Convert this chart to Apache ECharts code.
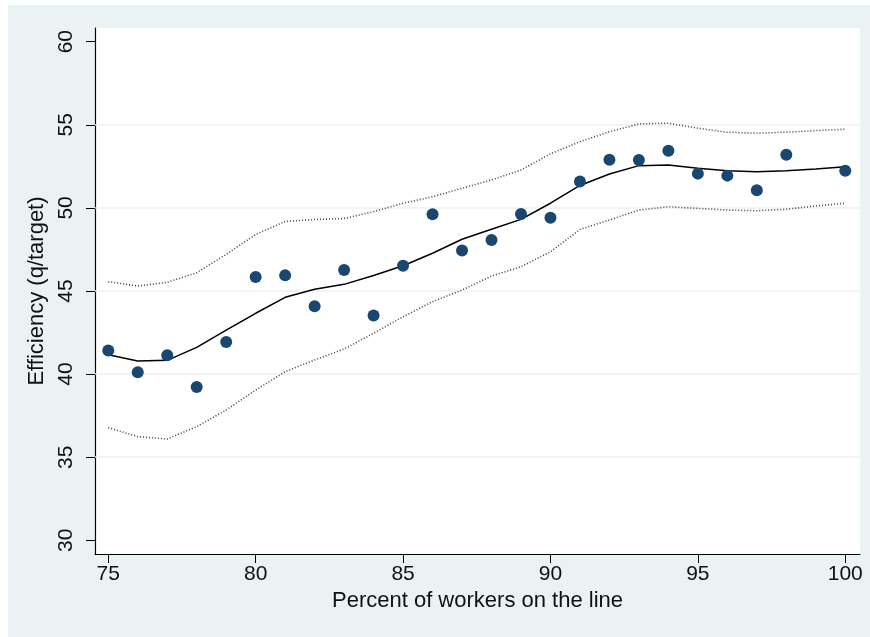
<!DOCTYPE html>
<html>
<head>
<meta charset="utf-8">
<script src="https://cdn.jsdelivr.net/npm/echarts@6/dist/echarts.min.js"></script>
<style>
  html, body { margin: 0; padding: 0; background: #fff; }
  #main { width: 870px; height: 637px; }
</style>
</head>
<body>
<div id="main"></div>
<script>
// percent of workers on the line, for the fitted curve and bands
var pctFit = [75, 76, 77, 78, 79, 80, 81, 82, 83, 84, 85, 86, 87, 88, 89, 90, 91, 92, 93, 94, 95, 96, 97, 98, 99, 100];
var fit = [41.17, 40.79, 40.83, 41.61, 42.65, 43.66, 44.62, 45.1, 45.4, 45.93, 46.52, 47.27, 48.11, 48.71, 49.31, 50.28, 51.35, 52.04, 52.54, 52.58, 52.38, 52.24, 52.18, 52.24, 52.34, 52.48];
var upper = [45.56, 45.3, 45.52, 46.1, 47.2, 48.4, 49.18, 49.3, 49.36, 49.77, 50.28, 50.67, 51.18, 51.68, 52.28, 53.25, 53.98, 54.58, 55.05, 55.09, 54.79, 54.55, 54.49, 54.55, 54.65, 54.73];
var lower = [36.78, 36.24, 36.1, 36.84, 37.84, 39.04, 40.15, 40.85, 41.51, 42.46, 43.45, 44.36, 45.06, 45.9, 46.46, 47.36, 48.7, 49.27, 49.87, 50.07, 49.97, 49.87, 49.83, 49.92, 50.11, 50.28];

// observed points (no point at 99)
var pctObs = [75, 76, 77, 78, 79, 80, 81, 82, 83, 84, 85, 86, 87, 88, 89, 90, 91, 92, 93, 94, 95, 96, 97, 98, 100];
var efficiency = [41.42, 40.11, 41.13, 39.22, 41.93, 45.84, 45.94, 44.08, 46.26, 43.52, 46.52, 49.61, 47.43, 48.07, 49.63, 49.41, 51.58, 52.9, 52.88, 53.44, 52.06, 51.94, 51.06, 53.2, 52.24];

var xTicks = [75, 80, 85, 90, 95, 100];
var yTicks = [30, 35, 40, 45, 50, 55, 60];
var yGrid = [35, 40, 45, 50, 55];

function pairs(xs, ys) {
  return xs.map(function (x, i) { return [x, ys[i]]; });
}

var font = 'Liberation Sans, Arial, Helvetica, sans-serif';
var chart = echarts.init(document.getElementById('main'));

var option = {
  animation: false,
  backgroundColor: '#fff',
  graphic: [{
    type: 'rect',
    z: -10,
    shape: { x: 8, y: 5, width: 862, height: 632 },
    style: { fill: '#eaf2f3' }
  }],
  grid: {
    left: 95, top: 28, width: 765, height: 526,
    show: true, backgroundColor: '#fff', borderWidth: 0
  },
  xAxis: {
    type: 'value',
    min: 74.55, max: 100.5,
    name: 'Percent of workers on the line',
    nameLocation: 'middle',
    nameGap: 35,
    nameTextStyle: { fontSize: 22, color: '#111', fontFamily: font },
    axisLine: { show: true, lineStyle: { color: '#000', width: 1.2 } },
    axisTick: { show: true, length: 9, customValues: xTicks, lineStyle: { color: '#000' } },
    axisLabel: { customValues: xTicks, margin: 10, fontSize: 21, color: '#111', fontFamily: font },
    splitLine: { show: false }
  },
  yAxis: {
    type: 'value',
    min: 29.18, max: 60.82,
    name: 'Efficiency (q/target)',
    nameLocation: 'middle',
    nameGap: 41,
    nameRotate: 90,
    nameTextStyle: { fontSize: 22, color: '#111', fontFamily: font },
    axisLine: { show: true, lineStyle: { color: '#000', width: 1.2 } },
    axisTick: { show: true, length: 9, customValues: yTicks, lineStyle: { color: '#000' } },
    axisLabel: { customValues: yTicks, rotate: 90, margin: 18, fontSize: 21, color: '#111', fontFamily: font },
    splitLine: { show: false }
  },
  series: [
    {
      type: 'line',
      data: pairs(pctFit, upper),
      showSymbol: false,
      lineStyle: { color: '#444', width: 1.6, type: [1, 2] },
      z: 3,
      markLine: {
        silent: true,
        symbol: 'none',
        z: 1,
        label: { show: false },
        lineStyle: { color: '#eaf2f3', width: 1.5, type: 'solid' },
        data: yGrid.map(function (v) { return { yAxis: v }; })
      }
    },
    {
      type: 'line',
      data: pairs(pctFit, lower),
      showSymbol: false,
      lineStyle: { color: '#444', width: 1.6, type: [1, 2] },
      z: 3
    },
    {
      type: 'line',
      data: pairs(pctFit, fit),
      showSymbol: false,
      lineStyle: { color: '#000', width: 1.5 },
      z: 4
    },
    {
      type: 'scatter',
      data: pairs(pctObs, efficiency),
      symbolSize: 12,
      itemStyle: { color: '#1a476f', opacity: 1 },
      z: 5
    }
  ]
};

chart.setOption(option);
</script>
</body>
</html>
